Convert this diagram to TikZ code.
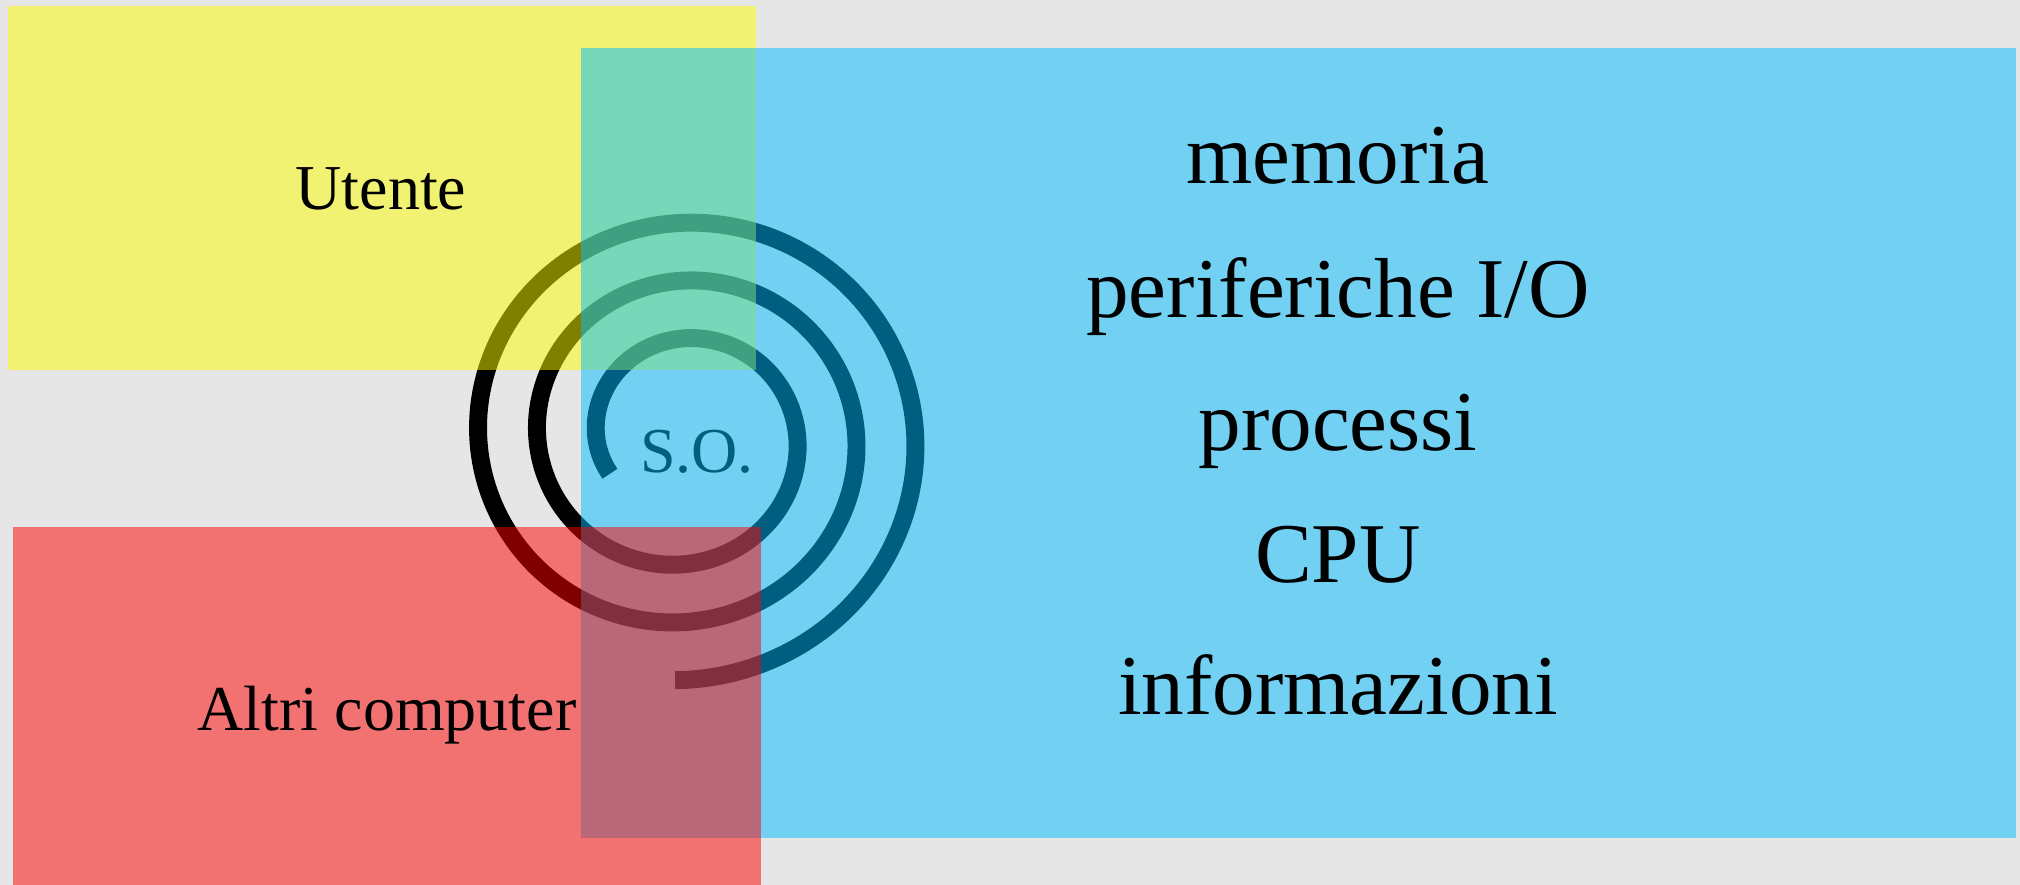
\documentclass[tikz,border=0pt]{standalone}
\usepackage{fontspec}
\setmainfont{Liberation Serif}
\definecolor{bgc}{RGB}{230,230,230}
\definecolor{ycol}{RGB}{255,255,0}
\definecolor{bcol}{RGB}{0,190,255}
\definecolor{rcol}{RGB}{255,0,0}
\tikzset{
  panel/.style={fill opacity=0.5},
  smalltxt/.style={anchor=base, inner sep=0pt, font=\fontsize{18.2pt}{22pt}\selectfont},
  bigtxt/.style={anchor=base, inner sep=0pt, font=\fontsize{24.2pt}{29pt}\selectfont},
  spiralline/.style={line width=5.1pt, black, line cap=butt}
}
\begin{document}
\begin{tikzpicture}[x=0.01cm, y=-0.01cm]
\fill[bgc] (0,0) rectangle (2020,885);
\useasboundingbox (0,0) rectangle (2020,885);
% spiral
\draw[spiralline] plot[domain=0:1019.1, samples=400, smooth, variable=\t]
  ({682+(81.25+\t/360*59)*cos(207.5-\t)}, {437-0.98*(81.25+\t/360*59)*sin(207.5-\t)});
\node[smalltxt] (so) at (697,472) {S.O.};
% panels
\fill[ycol, panel] (8,6) rectangle (756,370);
\fill[bcol, panel] (581,48) rectangle (2016,838);
\fill[rcol, panel] (13,527) rectangle (761,885);
% labels
\node[smalltxt] (utente) at (381,210) {Utente};
\node[smalltxt] (altri) at (387,730) {Altri computer};
\node[bigtxt] (memoria) at (1338,184) {memoria};
\node[bigtxt] (perif) at (1338,318) {periferiche I/O};
\node[bigtxt] (processi) at (1338,450) {processi};
\node[bigtxt] (cpu) at (1338,583) {CPU};
\node[bigtxt] (info) at (1338,714) {informazioni};
\end{tikzpicture}
\end{document}
